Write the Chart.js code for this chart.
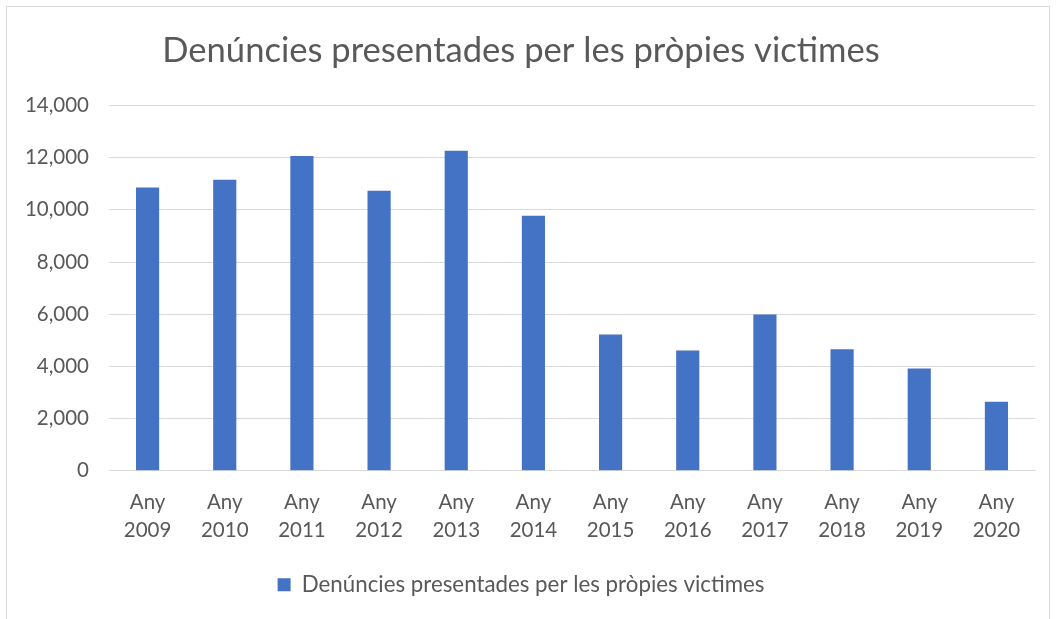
<!DOCTYPE html>
<html>
<head>
<meta charset="utf-8">
<script src="https://cdn.jsdelivr.net/npm/chart.js@4"></script>
<style>
  html, body { margin: 0; padding: 0; background: #fff; }
  #frame {
    position: absolute; left: 6px; top: 6px;
    width: 1044px; height: 620px;
    border: 1px solid #d9d9d9; box-sizing: border-box;
  }
  #myChart { position: absolute; left: 0; top: 0; }
</style>
</head>
<body>
<div id="frame"><canvas id="myChart" width="1042" height="613"></canvas></div>
<script>
// data
const years = ['2009', '2010', '2011', '2012', '2013', '2014', '2015', '2016', '2017', '2018', '2019', '2020'];
const labels = years.map(y => ['Any', y]);
const seriesName = 'Denúncies presentades per les pròpies victimes';
const values = [10860, 11150, 12060, 10730, 12270, 9770, 5220, 4610, 5990, 4660, 3920, 2640];
const yTicks = [0, 2000, 4000, 6000, 8000, 10000, 12000, 14000];

const grey = '#595959';
const font = 'Lato, "Open Sans", sans-serif';

const ctx = document.getElementById('myChart').getContext('2d');

const myChart = new Chart(ctx, {
  type: 'bar',
  data: {
    labels: labels,
    datasets: [{
      label: seriesName,
      data: values,
      backgroundColor: '#4472c4',
      borderWidth: 0,
      categoryPercentage: 1,
      barPercentage: 0.3
    }]
  },
  options: {
    responsive: false,
    animation: false,
    layout: { padding: { left: 0, right: 14, top: 0, bottom: 14 } },
    scales: {
      x: {
        grid: { display: false, drawTicks: false },
        border: { display: true, color: '#d9d9d9' },
        ticks: {
          color: grey,
          font: { family: font, size: 20.5, lineHeight: 1.366 },
          padding: 18,
          maxRotation: 0
        },
        afterFit: (scale) => { scale.height = 93; }
      },
      y: {
        min: 0,
        max: 14000,
        border: { display: false },
        grid: { color: '#d9d9d9', drawTicks: false },
        afterBuildTicks: (scale) => { scale.ticks = yTicks.map(v => ({ value: v })); },
        ticks: {
          color: grey,
          font: { family: font, size: 20.5 },
          padding: 20,
          callback: (v) => v.toLocaleString('en-US')
        },
        afterFit: (scale) => { scale.width = 102; }
      }
    },
    plugins: {
      title: {
        display: true,
        text: seriesName,
        color: grey,
        font: { family: font, size: 34.6, weight: 'normal', lineHeight: 1.2 },
        padding: { top: 23, bottom: 34 }
      },
      legend: {
        display: true,
        position: 'bottom',
        labels: {
          color: grey,
          font: { family: font, size: 22.3 },
          boxWidth: 13,
          boxHeight: 13,
          padding: 10
        }
      },
      tooltip: { enabled: false }
    }
  }
});
</script>
</body>
</html>
